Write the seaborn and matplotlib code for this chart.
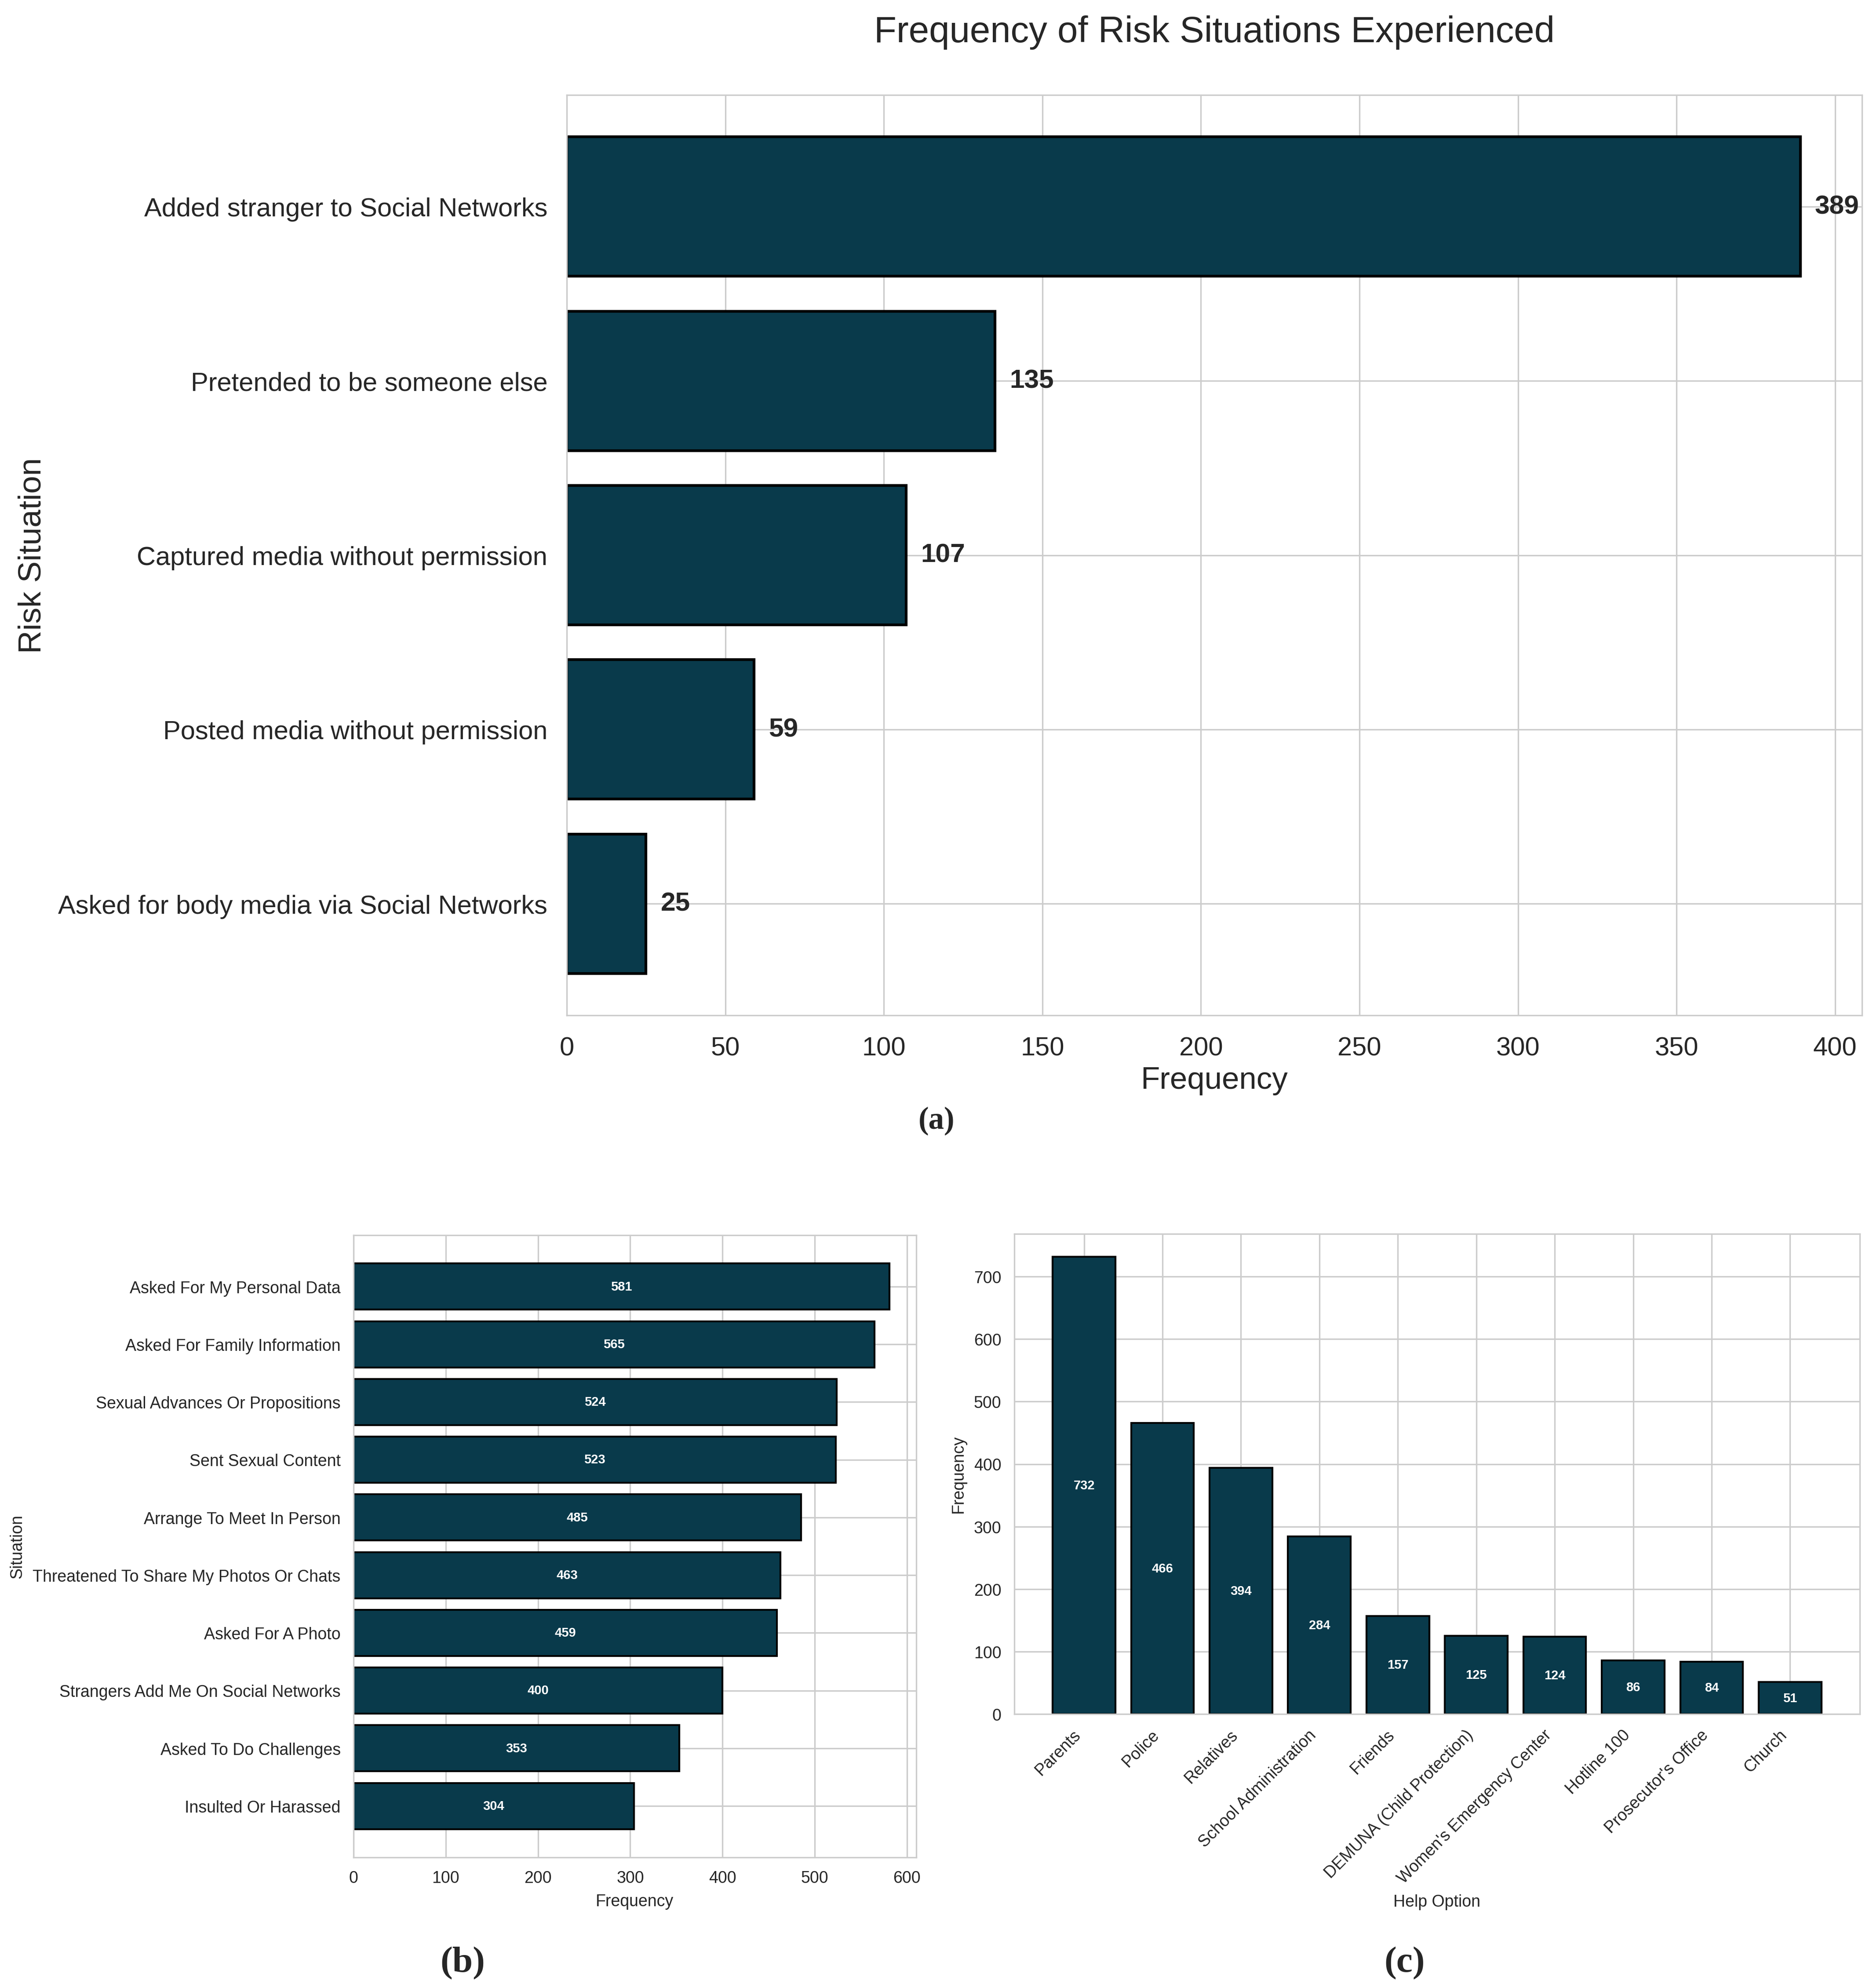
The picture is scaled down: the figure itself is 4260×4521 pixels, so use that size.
import matplotlib
matplotlib.use("Agg")
import matplotlib.pyplot as plt
import seaborn as sns
import pandas as pd

# panel (a)
risk_labels = [
    "Added stranger to Social Networks",
    "Pretended to be someone else",
    "Captured media without permission",
    "Posted media without permission",
    "Asked for body media via Social Networks",
]
risk_counts = [389, 135, 107, 59, 25]

# panel (b)
situation_labels = [
    "Asked For My Personal Data",
    "Asked For Family Information",
    "Sexual Advances Or Propositions",
    "Sent Sexual Content",
    "Arrange To Meet In Person",
    "Threatened To Share My Photos Or Chats",
    "Asked For A Photo",
    "Strangers Add Me On Social Networks",
    "Asked To Do Challenges",
    "Insulted Or Harassed",
]
situation_counts = [581, 565, 524, 523, 485, 463, 459, 400, 353, 304]

# panel (c)
help_labels = [
    "Parents", "Police", "Relatives", "School Administration", "Friends",
    "DEMUNA (Child Protection)", "Women's Emergency Center", "Hotline 100",
    "Prosecutor's Office", "Church",
]
help_counts = [732, 466, 394, 284, 157, 125, 124, 86, 84, 51]

BAR = "#093A4B"

sns.set_style("whitegrid")
plt.rcParams["font.family"] = ["Liberation Sans", "DejaVu Sans"]


def reset_cat_axis(ax, axis):
    # seaborn fixes the category limits and hides that grid; undo both
    ax.autoscale(enable=True, axis=axis)
    ax.autoscale_view()
    getattr(ax, axis + "axis").grid(True)


fig = plt.figure(figsize=(14.2, 15.073), dpi=300)

# (a)
ax1 = fig.add_axes([0.3026, 0.4892, 0.6915, 0.4628])
df_a = pd.DataFrame({"situation": risk_labels, "count": risk_counts})
sns.barplot(data=df_a, y="situation", x="count", color=BAR, saturation=1,
            edgecolor="black", linewidth=1.5, width=0.8, ax=ax1)
reset_cat_axis(ax1, "y")
for i, v in enumerate(risk_counts):
    ax1.annotate(str(v), (v, i), xytext=(8, 0), textcoords="offset points",
                 va="center", ha="left", fontsize=14.5, fontweight="bold", color="#262626")
ax1.set_title("Frequency of Risk Situations Experienced", fontsize=20, pad=29)
ax1.set_xlabel("Frequency", fontsize=17, labelpad=3)
ax1.set_ylabel("Risk Situation", fontsize=17.5, labelpad=6)
ax1.tick_params(axis="y", labelsize=14.3, pad=7)
ax1.tick_params(axis="x", labelsize=14.3, pad=8)

# (b)
ax2 = fig.add_axes([0.1887, 0.0657, 0.3005, 0.3129])
df_b = pd.DataFrame({"situation": situation_labels, "count": situation_counts})
sns.barplot(data=df_b, y="situation", x="count", color=BAR, saturation=1,
            edgecolor="black", linewidth=1.0, width=0.8, ax=ax2)
reset_cat_axis(ax2, "y")
for i, v in enumerate(situation_counts):
    ax2.text(v / 2, i, str(v), ha="center", va="center", color="white",
             fontsize=7, fontweight="bold")
ax2.set_xlabel("Frequency", fontsize=9)
ax2.set_ylabel("Situation", fontsize=9)
ax2.tick_params(axis="both", labelsize=9)

# (c)
ax3 = fig.add_axes([0.5415, 0.1378, 0.4515, 0.2415])
df_c = pd.DataFrame({"option": help_labels, "count": help_counts})
sns.barplot(data=df_c, x="option", y="count", color=BAR, saturation=1,
            edgecolor="black", linewidth=1.0, width=0.8, ax=ax3)
reset_cat_axis(ax3, "x")
for i, v in enumerate(help_counts):
    ax3.text(i, v / 2, str(v), ha="center", va="center", color="white",
             fontsize=7, fontweight="bold")
ax3.set_xlabel("Help Option", fontsize=9)
ax3.set_ylabel("Frequency", fontsize=9)
ax3.tick_params(axis="both", labelsize=9)
plt.setp(ax3.get_xticklabels(), rotation=45, ha="right")

for txt, x, y, fs in [("(a)", 0.5, 0.4363, 17), ("(b)", 0.247, 0.0126, 20), ("(c)", 0.75, 0.0126, 20)]:
    fig.text(x, y, txt, ha="center", va="center", fontsize=fs, fontweight="bold",
             family=["Liberation Serif", "DejaVu Serif"])

fig.savefig("out.png", dpi=300)
